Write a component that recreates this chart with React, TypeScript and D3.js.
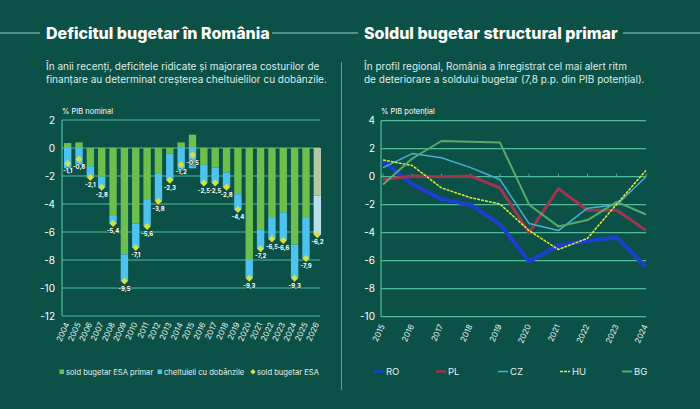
import React from 'react';
import { scaleLinear, scaleBand, scalePoint, line } from 'd3';

const width = 700;
const height = 409;

// left chart data (% PIB nominal)
const years = ['2004','2005','2006','2007','2008','2009','2010','2011','2012','2013','2014','2015','2016','2017','2018','2019','2020','2021','2022','2023','2024','2025','2026'];
const primar = [0.35, 0.4, -1.3, -2.05, -4.8, -7.6, -5.4, -3.65, -1.8, -0.4, 0.4, 0.95, -1.2, -1.4, -1.75, -3.3, -7.95, -5.8, -5.0, -4.6, -6.9, -5.0, -3.4];
const dobanzi = [-1.45, -1.2, -0.8, -0.75, -0.6, -1.9, -1.7, -1.95, -2.0, -1.9, -1.6, -1.45, -1.3, -1.1, -1.05, -1.1, -1.35, -1.4, -1.5, -2.0, -2.4, -2.9, -2.8];
const soldESA = [-1.1, -0.8, -2.1, -2.8, -5.4, -9.5, -7.1, -5.6, -3.8, -2.3, -1.2, -0.5, -2.5, -2.5, -2.8, -4.4, -9.3, -7.2, -6.5, -6.6, -9.3, -7.9, -6.2];
const leftTicks = [2, 0, -2, -4, -6, -8, -10, -12];

// right chart data (% PIB potential)
const years2 = ['2015','2016','2017','2018','2019','2020','2021','2022','2023','2024'];
const ro = [1.1, -0.55, -1.6, -2.0, -3.4, -6.05, -4.9, -4.6, -4.35, -6.45];
const pl = [-0.2, 0.05, 0.0, 0.05, -0.8, -4.0, -0.85, -2.4, -2.4, -3.85];
const cz = [0.65, 1.65, 1.35, 0.65, -0.2, -3.35, -3.85, -2.25, -2.0, 0.0];
const hu = [1.2, 0.8, -0.8, -1.5, -1.95, -3.85, -5.2, -4.4, -1.95, 0.45];
const bg = [-0.55, 1.3, 2.55, 2.5, 2.45, -2.0, -3.55, -3.1, -1.8, -2.7];
const rightTicks = [4, 2, 0, -2, -4, -6, -8, -10];

const bgColor = '#0c5148';
const gridColor = '#4fbd9c';
const font = 'Inter, "Noto Sans", sans-serif';
const fmt = (v: number) => v.toFixed(1).replace('.', ',');

const series = [
  { name: 'RO', values: ro, color: '#1d3fcf', w: 4, dash: undefined as string | undefined },
  { name: 'PL', values: pl, color: '#a1344f', w: 3, dash: undefined },
  { name: 'CZ', values: cz, color: '#4aafd8', w: 1.5, dash: undefined },
  { name: 'HU', values: hu, color: '#e6ea3c', w: 1.5, dash: '3,1' },
  { name: 'BG', values: bg, color: '#58aa6c', w: 2, dash: undefined },
];

function LeftChart() {
  const y = scaleLinear().domain([-12, 2]).range([316, 120]);
  const x = scaleBand().domain(years).range([62, 323]).paddingInner(0.35).paddingOuter(0.175);
  const bw = x.bandwidth();
  return (
    <g>
      {leftTicks.map((t) => (
        <g key={t}>
          <line x1={62} x2={320} y1={y(t)} y2={y(t)} stroke={gridColor} strokeWidth={1.2} />
          <text x={55} y={y(t)} dy="0.35em" textAnchor="end" fontSize={10} fill="#fff">{t}</text>
        </g>
      ))}
      <line x1={62} x2={62} y1={y(2)} y2={y(-12)} stroke={gridColor} strokeWidth={1.2} />
      <text x={62} y={114} fontSize={7.5} fill="#fff">% PIB nominal</text>
      {years.map((yr, i) => {
        const x0 = x(yr) as number;
        const proj = yr === '2026';
        const gCol = proj ? '#b3c7a2' : '#6cbf4c';
        const bCol = proj ? '#b9e0ea' : '#4ec3f0';
        const p = primar[i];
        const d = dobanzi[i];
        const gTop = p >= 0 ? y(p) : y(0);
        const gBot = p >= 0 ? y(0) : y(p);
        const bStart = p >= 0 ? 0 : p;
        return (
          <g key={yr}>
            <rect x={x0} y={gTop} width={bw} height={gBot - gTop} fill={gCol} />
            <rect x={x0} y={y(bStart)} width={bw} height={y(bStart + d) - y(bStart)} fill={bCol} />
          </g>
        );
      })}
      {years.map((yr, i) => {
        const cx = (x(yr) as number) + bw / 2;
        const cy = y(soldESA[i]);
        return (
          <g key={'d' + yr}>
            <path d={`M${cx},${cy - 3.5}L${cx + 3.5},${cy}L${cx},${cy + 3.5}L${cx - 3.5},${cy}Z`} fill="#d6e03a" />
            <text x={cx} y={cy + 9.5} textAnchor="middle" fontSize={6} fontWeight={700} fill="#fff"
              stroke={bgColor} strokeWidth={1.2} paintOrder="stroke">{fmt(soldESA[i])}</text>
          </g>
        );
      })}
      {years.map((yr) => {
        const cx = (x(yr) as number) + bw / 2 + 2;
        return (
          <text key={'x' + yr} transform={`translate(${cx},${324}) rotate(-65)`} textAnchor="end"
            fontSize={8} fill="#e6f2ee">{yr}</text>
        );
      })}
      <g fontSize={7.6} fill="#e6f2ee">
        <rect x={59.5} y={369.5} width={4.5} height={4.5} fill="#6cbf4c" />
        <text x={66} y={375}>sold bugetar ESA primar</text>
        <rect x={157.5} y={369.5} width={4.5} height={4.5} fill="#4ec3f0" />
        <text x={164} y={375}>cheltuieli cu dobânzile</text>
        <path d="M253,369L255.7,371.7L253,374.4L250.3,371.7Z" fill="#d6e03a" />
        <text x={257} y={375}>sold bugetar ESA</text>
      </g>
    </g>
  );
}

function RightChart() {
  const y = scaleLinear().domain([-10, 4]).range([316.7, 120.7]);
  const x = scalePoint().domain(years2).range([383, 646]);
  const gen = line<number>().x((_, i) => x(years2[i]) as number).y((v) => y(v));
  const legendX = [374, 436, 498, 560, 622];
  return (
    <g>
      {rightTicks.map((t) => (
        <g key={t}>
          <line x1={381} x2={646} y1={y(t)} y2={y(t)} stroke={gridColor} strokeWidth={1.2} />
          <text x={375} y={y(t)} dy="0.35em" textAnchor="end" fontSize={10} fill="#fff">{t}</text>
        </g>
      ))}
      <line x1={381} x2={381} y1={y(4)} y2={y(-10)} stroke={gridColor} strokeWidth={1.2} />
      {years2.map((yr) => (
        <line key={'t' + yr} x1={x(yr)} x2={x(yr)} y1={y(0)} y2={y(0) - 3} stroke={gridColor} strokeWidth={1} />
      ))}
      <text x={381} y={114} fontSize={7.5} fill="#fff">% PIB potențial</text>
      {series.map((s) => (
        <path key={s.name} d={gen(s.values) || ''} fill="none" stroke={s.color} strokeWidth={s.w}
          strokeDasharray={s.dash} strokeLinejoin="round" />
      ))}
      {years2.map((yr) => (
        <text key={'x' + yr} transform={`translate(${(x(yr) as number) + 2},${326}) rotate(-65)`} textAnchor="end"
          fontSize={8} fill="#e6f2ee">{yr}</text>
      ))}
      {series.map((s, i) => (
        <g key={'l' + s.name}>
          <line x1={legendX[i]} x2={legendX[i] + 10} y1={371.5} y2={371.5} stroke={s.color}
            strokeWidth={Math.min(s.w, 2.5)} strokeDasharray={s.dash} />
          <text x={legendX[i] + 12} y={375} fontSize={9.5} fill="#e6f2ee">{s.name}</text>
        </g>
      ))}
    </g>
  );
}

export default function App() {
  return (
    <svg width={width} height={height} style={{ position: 'absolute', left: 0, top: 0, fontFamily: font }}>
      <rect width={width} height={height} fill={bgColor} />
      <line x1={0} x2={width} y1={33} y2={33} stroke="#9ccfc1" strokeWidth={1} />
      <rect x={40} y={20} width={232} height={26} fill={bgColor} />
      <rect x={358} y={20} width={265} height={26} fill={bgColor} />
      <text x={46} y={39} fontSize={16} fontWeight={800} fill="#fff">Deficitul bugetar în România</text>
      <text x={364} y={39} fontSize={16} fontWeight={800} fill="#fff">Soldul bugetar structural primar</text>
      <line x1={341.5} x2={341.5} y1={62} y2={390} stroke="#6fb7a6" strokeWidth={0.8} />
      <g fontSize={10} fill="#dceee8">
        <text x={46} y={70}>În anii recenți, deficitele ridicate și majorarea costurilor de</text>
        <text x={46} y={82.5}>finanțare au determinat creșterea cheltuielilor cu dobânzile.</text>
        <text x={364} y={70}>În profil regional, România a înregistrat cel mai alert ritm</text>
        <text x={364} y={82.5}>de deteriorare a soldului bugetar (7,8 p.p. din PIB potențial).</text>
      </g>
      <LeftChart />
      <RightChart />
    </svg>
  );
}
